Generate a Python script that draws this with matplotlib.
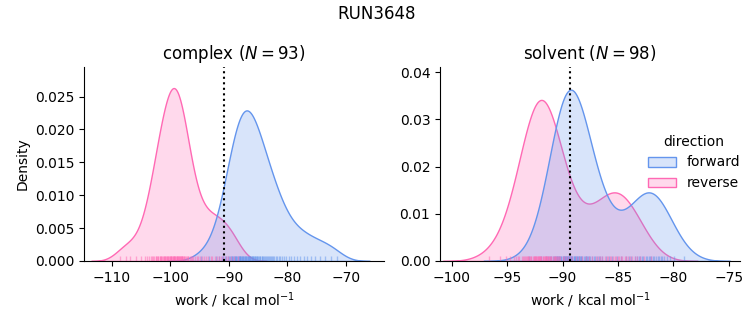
import pandas as pd
import matplotlib
matplotlib.use("Agg")
import matplotlib.pyplot as plt
import seaborn as sns

# work values (kcal/mol) per phase and direction
complex_forward = [-94.8, -93.3, -92.2, -91.6, -91.2, -90.9, -90.6, -90.4, -90.2, -90.0,
                   -89.8, -89.7, -89.5, -89.4, -89.3, -89.1, -89.0, -88.9, -88.8, -88.7,
                   -88.6, -88.5, -88.3, -88.2, -88.1, -88.0, -88.0, -87.9, -87.8, -87.7,
                   -87.6, -87.5, -87.4, -87.3, -87.2, -87.1, -87.0, -86.9, -86.8, -86.7,
                   -86.6, -86.5, -86.4, -86.3, -86.2, -86.1, -86.0, -85.9, -85.8, -85.7,
                   -85.6, -85.5, -85.3, -85.2, -85.1, -85.0, -84.8, -84.7, -84.6, -84.4,
                   -84.3, -84.1, -84.0, -83.8, -83.6, -83.5, -83.3, -83.1, -83.0, -82.8,
                   -82.6, -82.4, -82.2, -81.9, -81.7, -81.5, -81.2, -80.9, -80.6, -80.2,
                   -79.8, -79.3, -78.8, -78.3, -77.8, -77.2, -76.6, -76.0, -75.2, -74.4,
                   -73.5, -72.6, -71.6]
complex_reverse = [-108.5, -107.6, -106.8, -105.9, -105.0, -104.3, -103.9, -103.6, -103.3, -103.1,
                   -102.9, -102.7, -102.5, -102.4, -102.2, -102.1, -102.0, -101.8, -101.7, -101.6,
                   -101.5, -101.4, -101.3, -101.1, -101.0, -100.9, -100.8, -100.7, -100.6, -100.5,
                   -100.4, -100.3, -100.2, -100.1, -100.0, -99.9, -99.9, -99.8, -99.7, -99.6,
                   -99.5, -99.4, -99.3, -99.3, -99.2, -99.1, -99.0, -98.9, -98.9, -98.8,
                   -98.7, -98.6, -98.5, -98.5, -98.4, -98.3, -98.2, -98.1, -98.0, -98.0,
                   -97.9, -97.8, -97.7, -97.6, -97.4, -97.3, -97.2, -97.0, -96.9, -96.7,
                   -96.5, -96.3, -96.1, -95.8, -95.5, -95.2, -94.9, -94.5, -94.2, -93.8,
                   -93.5, -93.1, -92.8, -92.4, -92.0, -91.7, -91.3, -90.9, -90.5, -90.1,
                   -89.6, -89.1, -88.5]
solvent_forward = [-93.0, -91.9, -91.5, -91.3, -91.1, -91.0, -90.9, -90.8, -90.7, -90.6,
                   -90.5, -90.5, -90.4, -90.3, -90.3, -90.2, -90.1, -90.1, -90.0, -90.0,
                   -89.9, -89.9, -89.8, -89.8, -89.7, -89.7, -89.6, -89.6, -89.5, -89.5,
                   -89.4, -89.4, -89.3, -89.3, -89.2, -89.2, -89.1, -89.1, -89.0, -89.0,
                   -88.9, -88.9, -88.8, -88.7, -88.7, -88.6, -88.5, -88.5, -88.4, -88.3,
                   -88.3, -88.2, -88.1, -88.0, -87.9, -87.9, -87.8, -87.7, -87.6, -87.5,
                   -87.3, -87.2, -87.1, -86.9, -86.7, -86.6, -86.4, -86.1, -85.8, -85.5,
                   -85.1, -84.7, -84.3, -84.0, -83.8, -83.5, -83.3, -83.1, -83.0, -82.8,
                   -82.7, -82.5, -82.4, -82.2, -82.1, -82.0, -81.8, -81.7, -81.6, -81.4,
                   -81.3, -81.1, -81.0, -80.8, -80.6, -80.3, -79.9, -79.0]
solvent_reverse = [-96.6, -95.6, -95.1, -94.7, -94.4, -94.2, -94.0, -93.9, -93.7, -93.6,
                   -93.5, -93.4, -93.3, -93.2, -93.1, -93.1, -93.0, -92.9, -92.8, -92.8,
                   -92.7, -92.6, -92.6, -92.5, -92.5, -92.4, -92.4, -92.3, -92.2, -92.2,
                   -92.1, -92.1, -92.0, -92.0, -91.9, -91.9, -91.8, -91.8, -91.7, -91.6,
                   -91.6, -91.5, -91.5, -91.4, -91.4, -91.3, -91.2, -91.2, -91.1, -91.0,
                   -91.0, -90.9, -90.8, -90.7, -90.7, -90.6, -90.5, -90.4, -90.3, -90.2,
                   -90.0, -89.9, -89.7, -89.5, -89.3, -89.1, -88.8, -88.5, -88.2, -87.9,
                   -87.6, -87.3, -87.0, -86.8, -86.6, -86.4, -86.2, -86.0, -85.9, -85.7,
                   -85.6, -85.4, -85.3, -85.2, -85.0, -84.9, -84.7, -84.6, -84.4, -84.3,
                   -84.1, -83.9, -83.7, -83.5, -83.3, -83.0, -82.6, -82.0]

phases = ["complex", "solvent"]
n_pairs = [93, 98]
free_energy = [-90.75, -89.28]  # dotted line
run_name = "RUN3648"

rows = []
for phase, d, vals in [("complex", "forward", complex_forward), ("complex", "reverse", complex_reverse),
                       ("solvent", "forward", solvent_forward), ("solvent", "reverse", solvent_reverse)]:
    for v in vals:
        rows.append((phase, d, v))
df = pd.DataFrame(rows, columns=["phase", "direction", "work"])

g = sns.displot(df, x="work", hue="direction", col="phase", kind="kde", fill=True, rug=True,
                rug_kws=dict(alpha=0.5),
                palette={"forward": "cornflowerblue", "reverse": "hotpink"},
                facet_kws=dict(sharex=False, sharey=False), height=3.25, aspect=1)
fig = g.figure
fig.set_size_inches(7.53, 3.25)

ax1, ax2 = g.axes.flat
ax1.set_position([0.1116, 0.197, 0.3984, 0.597])
ax2.set_position([0.5843, 0.197, 0.3984, 0.597])
ax1.set_xlim(-114.7, -63.5)
ax2.set_xlim(-101.06, -73.98)
ax1.set_ylim(0, 0.0295)
ax2.set_ylim(0, 0.0411)

for ax, phase, n, dg in zip((ax1, ax2), phases, n_pairs, free_energy):
    ax.axvline(dg, color="k", ls=":")
    ax.set_title(f"{phase} ($N = {n}$)", fontsize=12)
    ax.set_xlabel("work / kcal mol$^{-1}$")

fig.suptitle(run_name, fontsize=12, y=0.985)
fig.savefig("out.png", dpi=100)
